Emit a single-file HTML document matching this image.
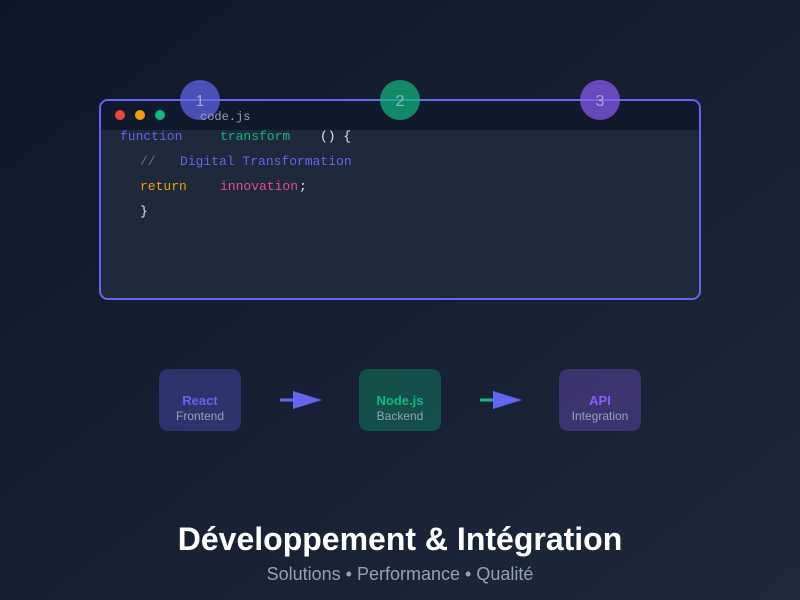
<!DOCTYPE html>
<html><head><meta charset="utf-8"><style>html,body{margin:0;padding:0;width:800px;height:600px;overflow:hidden}</style></head>
<body>
<svg width="800" height="600" viewBox="0 0 800 600" xmlns="http://www.w3.org/2000/svg">
<defs>
<linearGradient id="bg" x1="0" y1="0" x2="1" y2="1"><stop offset="0" stop-color="#0f172a"/><stop offset="1" stop-color="#1e293b"/></linearGradient>
<linearGradient id="ln" x1="0" y1="0" x2="1" y2="0"><stop offset="0" stop-color="#6366f1"/><stop offset="0.5" stop-color="#6366f1"/><stop offset="1" stop-color="#14b8a6"/></linearGradient>
</defs>
<rect width="800" height="600" fill="url(#bg)"/>
<rect x="100" y="100" width="600" height="199" rx="8" fill="#1e293b" stroke="#6366f1" stroke-width="2"/>
<path d="M101 108 a7 7 0 0 1 7 -7 h584 a7 7 0 0 1 7 7 v22 h-598 z" fill="#0f172a" opacity="0.85"/>
<line x1="200" y1="100" x2="600" y2="100" stroke="url(#ln)" stroke-width="2" opacity="0.8"/>
<circle cx="120" cy="115" r="5" fill="#ef4444"/>
<circle cx="140" cy="115" r="5" fill="#f59e0b"/>
<circle cx="160" cy="115" r="5" fill="#10b981"/>
<circle cx="200" cy="100" r="20" fill="#6366f1" opacity="0.7"/>
<circle cx="400" cy="100" r="20" fill="#10b981" opacity="0.7"/>
<circle cx="600" cy="100" r="20" fill="#8b5cf6" opacity="0.7"/>
<g font-family="Liberation Sans, sans-serif" font-size="16" fill="#d8dcef" opacity="0.6" text-anchor="middle">
<text x="200" y="106">1</text><text x="400" y="106">2</text><text x="600" y="106">3</text></g>
<g font-family="Liberation Mono, monospace" font-size="13">
<text x="200" y="120" fill="#94a3b8" font-size="12">code.js</text>
<text x="120" y="140" fill="#6366f1">function</text>
<text x="220" y="140" fill="#10b981">transform</text>
<text x="320" y="140" fill="#e2e8f0">() {</text>
<text x="140" y="165" fill="#64748b">//</text>
<text x="180" y="165" fill="#6366f1">Digital Transformation</text>
<text x="140" y="190" fill="#f59e0b">return</text>
<text x="220" y="190" fill="#ec4899">innovation</text>
<text x="299" y="190" fill="#e2e8f0">;</text>
<text x="140" y="215" fill="#e2e8f0">}</text>
</g>
<rect x="159" y="369" width="82" height="62" rx="9" fill="#6366f1" opacity="0.3"/>
<rect x="359" y="369" width="82" height="62" rx="9" fill="#10b981" opacity="0.3"/>
<rect x="559" y="369" width="82" height="62" rx="9" fill="#8b5cf6" opacity="0.3"/>
<g font-family="Liberation Sans, sans-serif" text-anchor="middle">
<text x="200" y="405" font-size="13" font-weight="bold" fill="#6366f1">React</text>
<text x="200" y="420" font-size="12" fill="#94a3b8">Frontend</text>
<text x="400" y="405" font-size="13" font-weight="bold" fill="#10b981">Node.js</text>
<text x="400" y="420" font-size="12" fill="#94a3b8">Backend</text>
<text x="600" y="405" font-size="13" font-weight="bold" fill="#8b5cf6">API</text>
<text x="600" y="420" font-size="12" fill="#94a3b8">Integration</text>
</g>
<line x1="280" y1="400" x2="296" y2="400" stroke="#6366f1" stroke-width="3"/>
<polygon points="293,391 322,400 293,409" fill="#6366f1"/>
<line x1="480" y1="400" x2="496" y2="400" stroke="#10b981" stroke-width="3"/>
<polygon points="493,391 522,400 493,409" fill="#6366f1"/>
<text x="400" y="550" text-anchor="middle" font-family="Liberation Sans, sans-serif" font-size="32" font-weight="bold" fill="#ffffff">Développement &amp; Intégration</text>
<text x="400" y="580" text-anchor="middle" font-family="Liberation Sans, sans-serif" font-size="18" fill="#94a3b8">Solutions • Performance • Qualité</text>
</svg>
</body></html>
